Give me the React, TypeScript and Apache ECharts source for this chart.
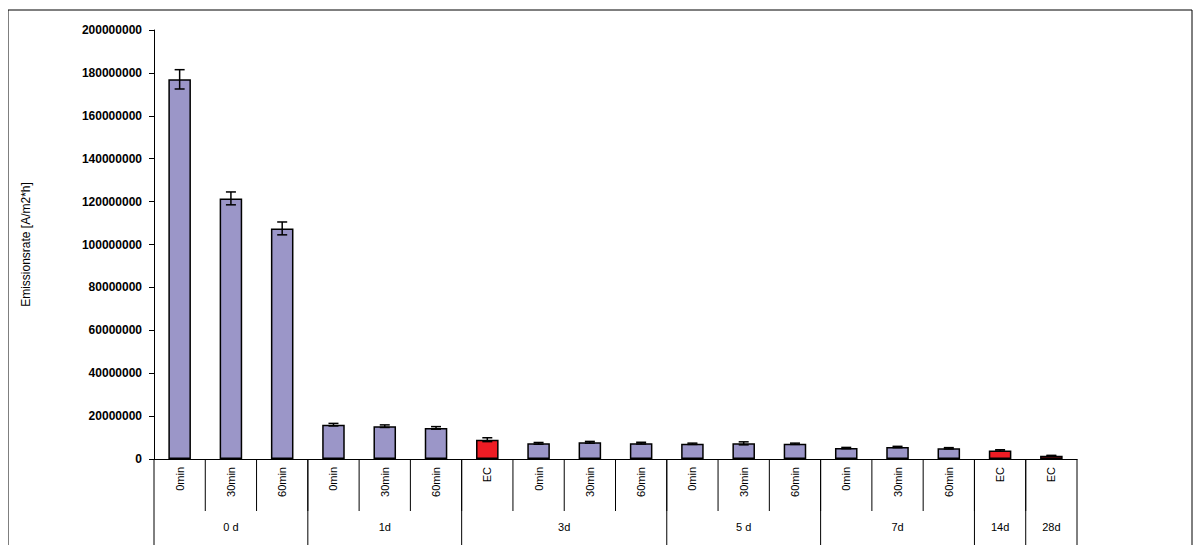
import React, { useEffect, useRef } from "react";
import * as echarts from "echarts";

const categories = ["0min", "30min", "60min", "0min", "30min", "60min", "EC", "0min", "30min", "60min", "0min", "30min", "60min", "0min", "30min", "60min", "EC", "EC"];
const values = [177000000, 121500000, 107500000, 16000000, 15300000, 14500000, 9000000, 7300000, 7800000, 7400000, 7100000, 7300000, 7100000, 5100000, 5600000, 5000000, 4000000, 1500000];
const errors = [4500000, 3000000, 3000000, 600000, 600000, 600000, 900000, 400000, 400000, 400000, 300000, 700000, 300000, 300000, 300000, 300000, 300000, 200000];
const isEC = [false, false, false, false, false, false, true, false, false, false, false, false, false, false, false, false, true, true];
const groups = ["0 d", "1d", "3d", "5 d", "7d", "14d", "28d"];
const groupSizes = [3, 3, 4, 3, 3, 1, 1];

const App = () => {
  const chartRef = useRef<HTMLDivElement>(null);

  useEffect(() => {
    if (!chartRef.current) return;
    const chart = echarts.init(chartRef.current, undefined, { renderer: "svg" });
    const font = "'Liberation Sans', Arial, sans-serif";
    const keys = categories.map((_, i) => String(i));

    const option: any = {
      animation: false,
      grid: { left: 146, top: 22, width: 923, bottom: 86 },
      xAxis: {
        type: "category",
        data: keys,
        axisLine: { lineStyle: { color: "#000", width: 1 } },
        axisTick: { show: false },
        axisLabel: {
          interval: 0,
          rotate: 90,
          margin: 8,
          color: "#000",
          fontSize: 11,
          fontFamily: font,
          formatter: (v: string) => categories[+v],
        },
      },
      yAxis: {
        type: "value",
        min: 0,
        max: 200000000,
        interval: 20000000,
        name: "Emissionsrate [A/m2*h]",
        nameLocation: "middle",
        nameGap: 122,
        nameTextStyle: { color: "#000", fontSize: 12, fontFamily: font },
        axisLine: { show: true, lineStyle: { color: "#000" } },
        axisTick: { show: true, length: 5, lineStyle: { color: "#000" } },
        splitLine: { show: false },
        axisLabel: {
          color: "#000",
          fontSize: 12,
          fontWeight: "bold",
          fontFamily: font,
          margin: 12,
          formatter: (v: number) => String(v),
        },
      },
      series: [
        {
          type: "bar",
          barWidth: "44%",
          data: values.map((v, i) => ({
            value: v,
            itemStyle: { color: isEC[i] ? "#ee1c24" : "#9b96c8", borderColor: "#000", borderWidth: 1.5 },
          })),
        },
        {
          type: "custom",
          z: 10,
          data: values.map((v, i) => [i, v - errors[i], v + errors[i]]),
          renderItem: (params: any, api: any) => {
            const lo = api.coord([api.value(0), api.value(1)]);
            const hi = api.coord([api.value(0), api.value(2)]);
            const w = 5;
            const style = { stroke: "#000", lineWidth: 1.5 };
            return {
              type: "group",
              children: [
                { type: "line", shape: { x1: lo[0], y1: lo[1], x2: hi[0], y2: hi[1] }, style },
                { type: "line", shape: { x1: lo[0] - w, y1: lo[1], x2: lo[0] + w, y2: lo[1] }, style },
                { type: "line", shape: { x1: hi[0] - w, y1: hi[1], x2: hi[0] + w, y2: hi[1] }, style },
              ],
            };
          },
        },
      ],
    };
    chart.setOption(option);

    const graphics: any[] = [
      { type: "rect", shape: { x: 0, y: 2, width: 1184, height: 700 }, style: { fill: "none", stroke: "#000", lineWidth: 1 } },
    ];
    const c0 = chart.convertToPixel({ xAxisIndex: 0 }, "0") as number;
    const step = (chart.convertToPixel({ xAxisIndex: 0 }, "1") as number) - c0;
    const x0 = c0 - step / 2;
    const axisY = chart.convertToPixel({ yAxisIndex: 0 }, 0) as number;
    const line = (x: number, y2: number) => ({
      type: "line",
      shape: { x1: x, y1: axisY, x2: x, y2 },
      style: { stroke: "#000", lineWidth: 1 },
    });
    for (let i = 1; i < categories.length; i++) graphics.push(line(x0 + i * step, axisY + 52));
    graphics.push(line(x0, 540));
    let start = 0;
    groups.forEach((g, gi) => {
      const end = start + groupSizes[gi];
      graphics.push(line(x0 + end * step, 540));
      graphics.push({
        type: "text",
        x: x0 + ((start + end) / 2) * step,
        y: axisY + 68,
        style: { text: g, fill: "#000", font: `11px ${font}`, align: "center", verticalAlign: "middle" },
      });
      start = end;
    });
    chart.setOption({ graphic: graphics });

    return () => chart.dispose();
  }, []);

  return <div ref={chartRef} style={{ width: 1186, height: 537 }} />;
};

export default App;
